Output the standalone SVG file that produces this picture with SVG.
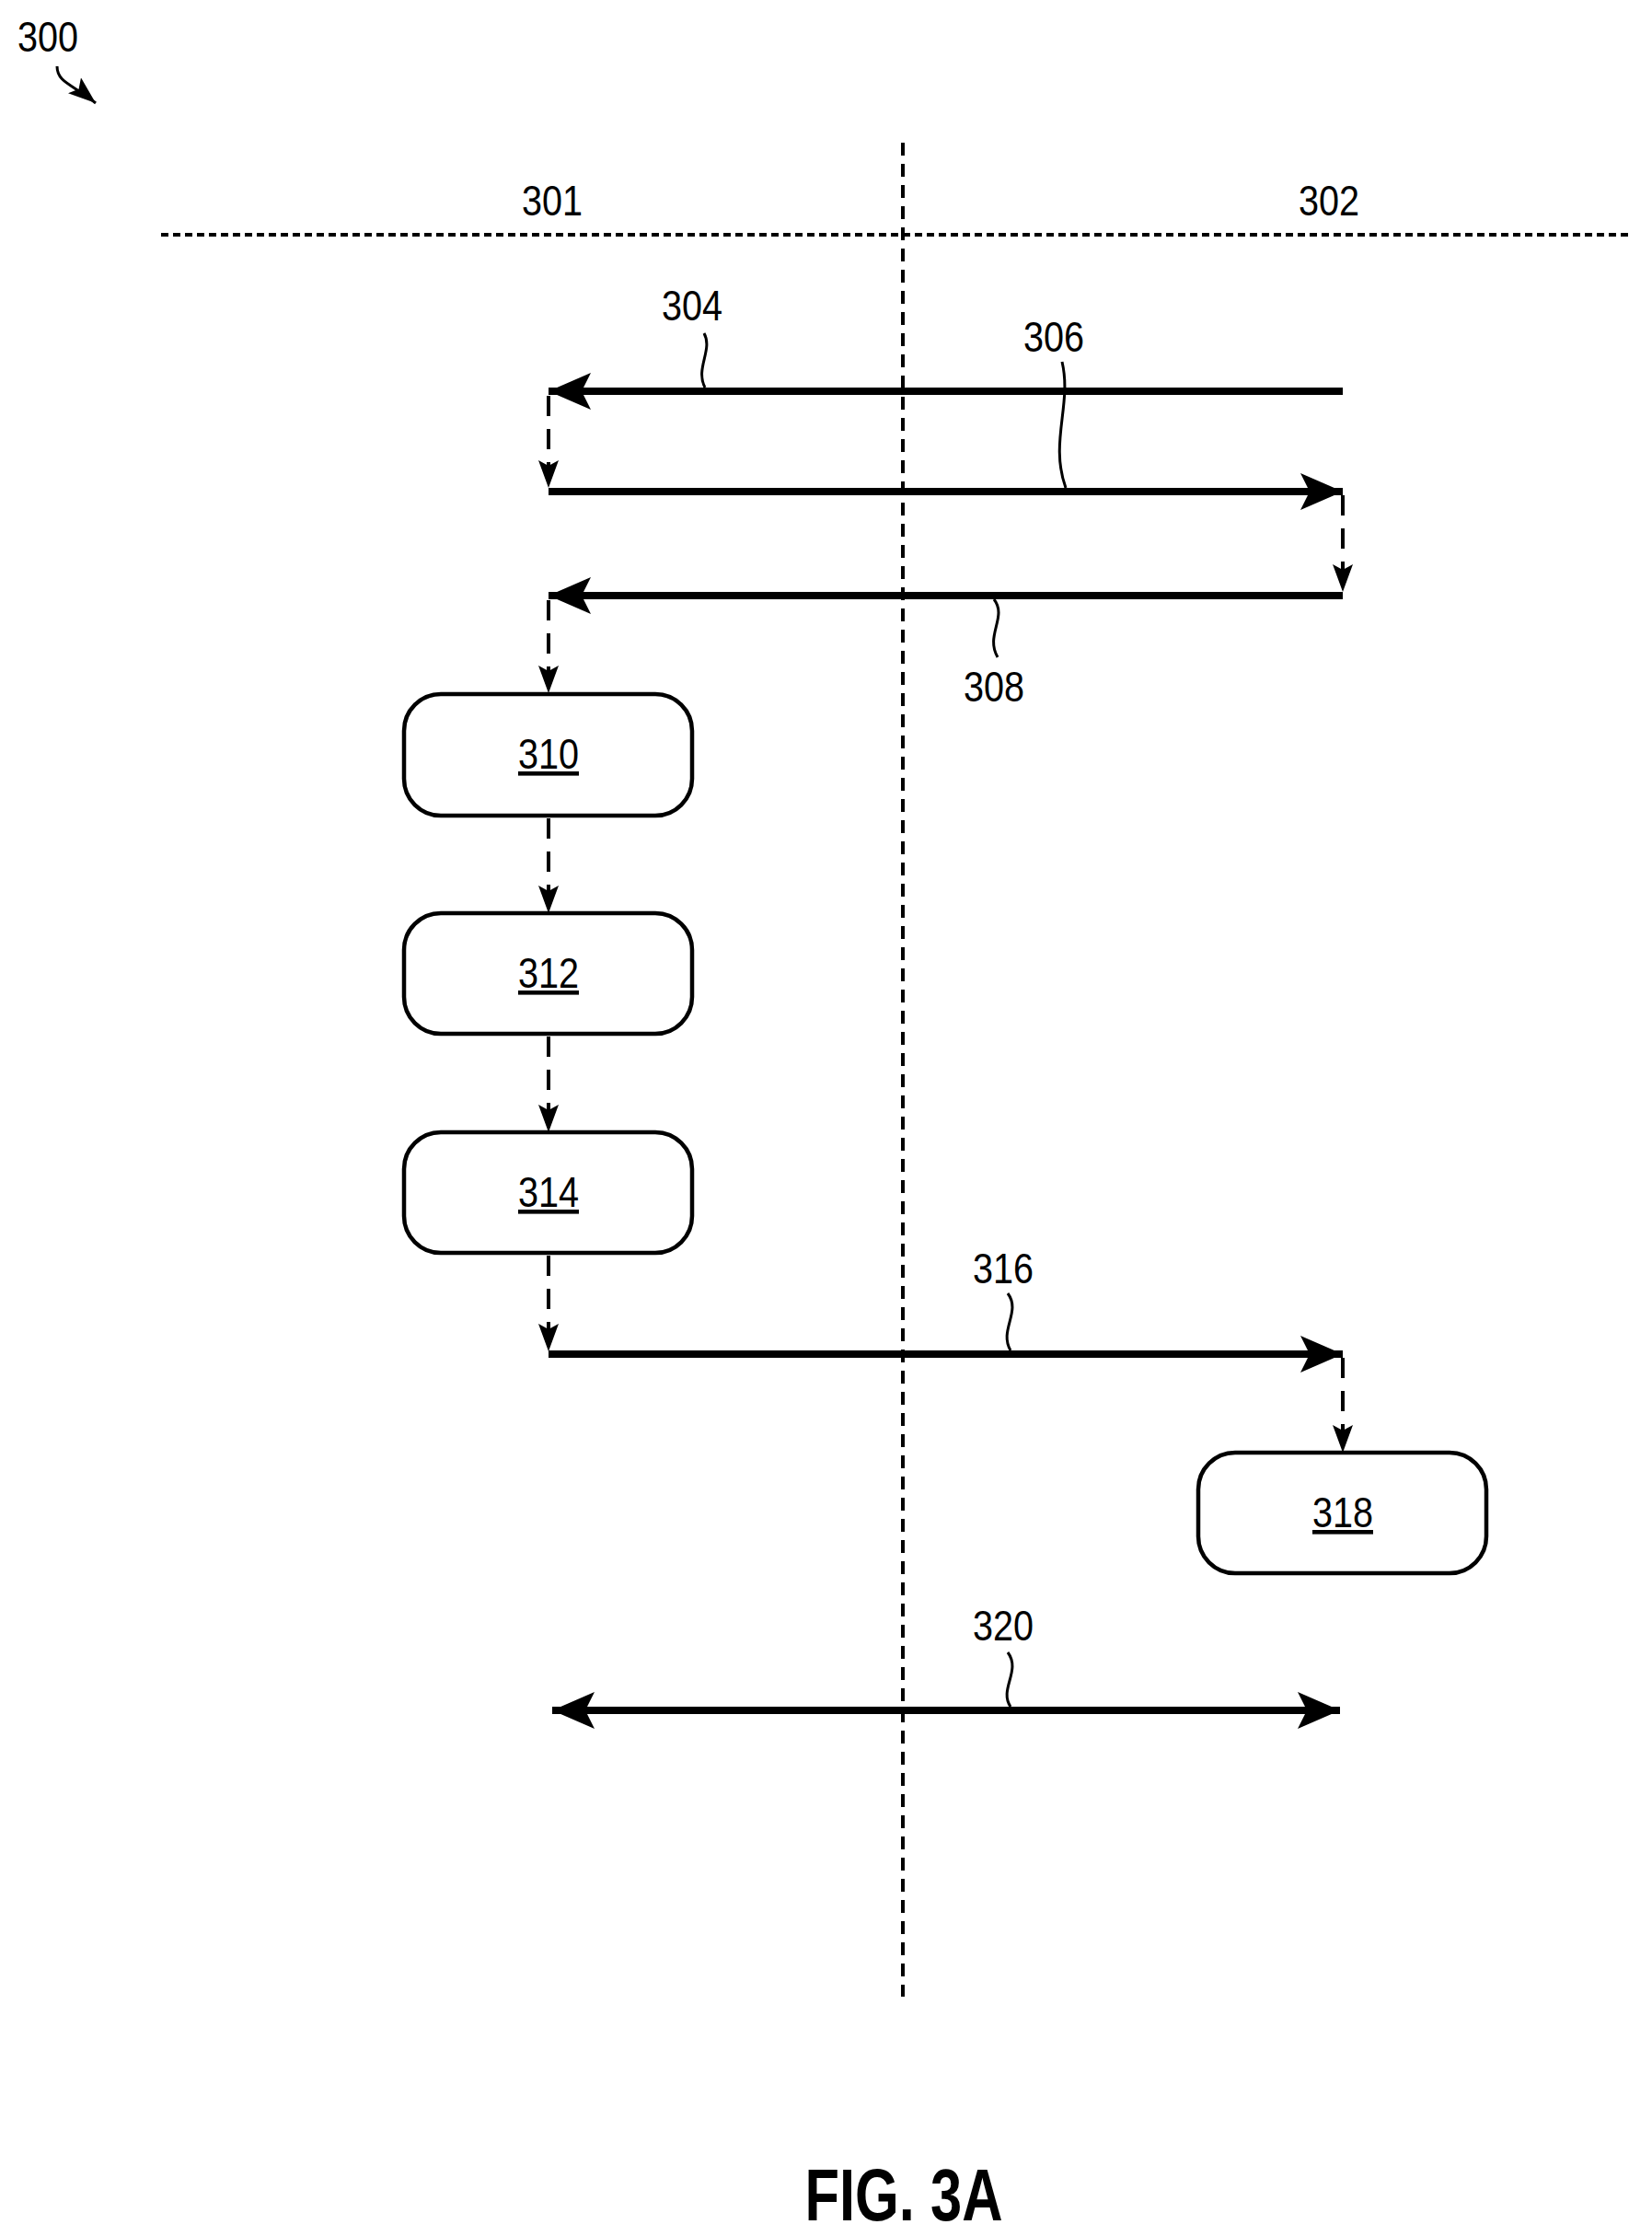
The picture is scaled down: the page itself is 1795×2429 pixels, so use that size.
<svg xmlns="http://www.w3.org/2000/svg" width="1795" height="2429" viewBox="0 0 1795 2429">
<style>
.lbl{font-family:"Liberation Sans",Arial,sans-serif;font-size:46px;fill:#000}
.box{fill:#fff;stroke:#000;stroke-width:4.5}
.thick{stroke:#000;stroke-width:8;fill:none}
.dash{stroke:#000;stroke-width:4;stroke-dasharray:22 14;fill:none}
.sq{stroke:#000;stroke-width:3;fill:none}
</style>
<defs>
<marker id="big" viewBox="0 0 46 40" refX="46" refY="20" markerWidth="46" markerHeight="40" markerUnits="userSpaceOnUse" orient="auto-start-reverse"><path d="M0,0 L46,20 L0,40 L10,20 Z" fill="#000"/></marker>
<marker id="small" viewBox="0 0 30 22" refX="30" refY="11" markerWidth="30" markerHeight="22" markerUnits="userSpaceOnUse" orient="auto"><path d="M0,0 L30,11 L0,22 L6,11 Z" fill="#000"/></marker>
</defs>
<g id="frame">
<line x1="981" y1="155" x2="981" y2="2169" stroke="#000" stroke-width="4" stroke-dasharray="14 9"/>
<line x1="175" y1="255" x2="1772" y2="255" stroke="#000" stroke-width="4" stroke-dasharray="8 5"/>
<text class="lbl" x="600" y="234" text-anchor="middle" textLength="66" lengthAdjust="spacingAndGlyphs">301</text>
<text class="lbl" x="1444" y="234" text-anchor="middle" textLength="66" lengthAdjust="spacingAndGlyphs">302</text>
<text class="lbl" x="52" y="56" text-anchor="middle" textLength="66" lengthAdjust="spacingAndGlyphs">300</text>
<path d="M62,72 C62,90 80,92 104,112" class="sq" stroke-width="4" marker-end="url(#small)"/>
</g>
<g id="connectors">
<line class="thick" x1="1459" y1="425" x2="596" y2="425" marker-end="url(#big)"/>
<line class="thick" x1="596" y1="534" x2="1459" y2="534" marker-end="url(#big)"/>
<line class="thick" x1="1459" y1="647" x2="596" y2="647" marker-end="url(#big)"/>
<line class="thick" x1="596" y1="1471" x2="1459" y2="1471" marker-end="url(#big)"/>
<line class="thick" x1="600" y1="1858" x2="1456" y2="1858" marker-start="url(#big)" marker-end="url(#big)"/>
<line class="dash" x1="596" y1="430" x2="596" y2="530" marker-end="url(#small)"/>
<line class="dash" x1="1459" y1="538" x2="1459" y2="643" marker-end="url(#small)"/>
<line class="dash" x1="596" y1="652" x2="596" y2="753" marker-end="url(#small)"/>
<line class="dash" x1="596" y1="889" x2="596" y2="992" marker-end="url(#small)"/>
<line class="dash" x1="596" y1="1126" x2="596" y2="1230" marker-end="url(#small)"/>
<line class="dash" x1="596" y1="1364" x2="596" y2="1468" marker-end="url(#small)"/>
<line class="dash" x1="1459" y1="1475" x2="1459" y2="1578" marker-end="url(#small)"/>
<path class="sq" d="M765,362 C775,380 755,400 766,421"/>
<path class="sq" d="M1154,393 C1165,440 1140,480 1158,530"/>
<path class="sq" d="M1080,651 C1095,670 1070,690 1084,714"/>
<path class="sq" d="M1095,1405 C1110,1425 1085,1445 1098,1467"/>
<path class="sq" d="M1095,1795 C1110,1815 1085,1835 1098,1854"/>
<text class="lbl" x="752" y="348" text-anchor="middle" textLength="66" lengthAdjust="spacingAndGlyphs">304</text>
<text class="lbl" x="1145" y="382" text-anchor="middle" textLength="66" lengthAdjust="spacingAndGlyphs">306</text>
<text class="lbl" x="1080" y="762" text-anchor="middle" textLength="66" lengthAdjust="spacingAndGlyphs">308</text>
<text class="lbl" x="1090" y="1394" text-anchor="middle" textLength="66" lengthAdjust="spacingAndGlyphs">316</text>
<text class="lbl" x="1090" y="1782" text-anchor="middle" textLength="66" lengthAdjust="spacingAndGlyphs">320</text>
</g>
<g id="n310"><rect class="box" x="439" y="754" width="313" height="132" rx="40"/><text class="lbl" x="596" y="835" text-anchor="middle" text-decoration="underline" textLength="66" lengthAdjust="spacingAndGlyphs">310</text></g>
<g id="n312"><rect class="box" x="439" y="992" width="313" height="131" rx="40"/><text class="lbl" x="596" y="1073" text-anchor="middle" text-decoration="underline" textLength="66" lengthAdjust="spacingAndGlyphs">312</text></g>
<g id="n314"><rect class="box" x="439" y="1230" width="313" height="131" rx="40"/><text class="lbl" x="596" y="1311" text-anchor="middle" text-decoration="underline" textLength="66" lengthAdjust="spacingAndGlyphs">314</text></g>
<g id="n318"><rect class="box" x="1302" y="1578" width="313" height="131" rx="40"/><text class="lbl" x="1459" y="1659" text-anchor="middle" text-decoration="underline" textLength="66" lengthAdjust="spacingAndGlyphs">318</text></g>
<text x="982" y="2412" text-anchor="middle" font-family="Liberation Sans,Arial,sans-serif" font-weight="bold" font-size="80" textLength="215" lengthAdjust="spacingAndGlyphs">FIG. 3A</text>
</svg>
